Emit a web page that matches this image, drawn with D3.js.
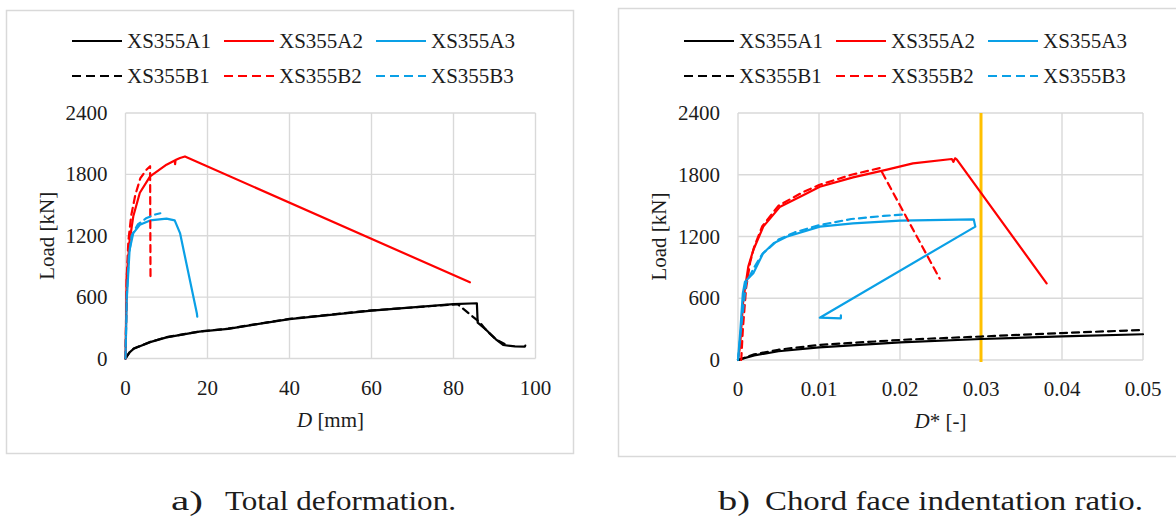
<!doctype html>
<html>
<head>
<meta charset="utf-8">
<title>Load - deformation</title>
<script src="https://cdn.jsdelivr.net/npm/d3@7"></script>
<style>
	body { margin:0; background:#fff; }
	svg text { font-family:'Liberation Serif','Times New Roman',serif; fill:#1c1c1c; }
	.grid line { stroke:#d9d9d9; stroke-width:1.4; }
	.frame { fill:none; stroke:#d9d9d9; stroke-width:1.5; }
	.curve { fill:none; stroke-width:2.2; stroke-linejoin:round; stroke-linecap:round; }
</style>
</head>
<body>
<script>

	// series names + styles
	var names = ["XS355A1","XS355A2","XS355A3","XS355B1","XS355B2","XS355B3"];
	var colors = ["#000000","#ff0000","#0aa0e6","#000000","#ff0000","#0aa0e6"];
	var dashed = [false,false,false,true,true,true];

	var loadTicks = [0,600,1200,1800,2400];

	// panel a) : D [mm] vs Load [kN]
	var dTicks = [0,20,40,60,80,100];
	var dA1 = [[0,0],[1,60],[2,95],[3.5,120],[6,160],[10,207],[18,262],[25,290],[40,385],[60,468],[80,531],[85.7,540],[85.9,350],[88,279],[90.5,181],[92.1,132],[95,118],[97.4,116],[97.5,126]];
	var dA2 = [[0,0],[0.3,800],[1,1150],[1.9,1390],[3.5,1620],[6,1780],[10,1895],[12,1935],[12.1,1900],[12.2,1940],[13.3,1960],[14.5,1975],[84,745]];
	var dA3 = [[0,0],[0.3,573],[1,1063],[1.9,1226],[3.5,1307],[6,1350],[10,1368],[12,1350],[13.3,1226],[17.4,443],[17.5,410]];
	var dB1 = [[0,0],[1,62],[2,97],[3.5,122],[6,162],[10,209],[18,264],[25,292],[40,388],[60,470],[81,531],[86.5,350],[88,276],[90.5,182],[92.5,140]];
	var dB2 = [[0,0],[0.3,800],[0.7,1150],[1.4,1400],[2.4,1600],[3.6,1760],[5,1840],[6,1880],[6.1,785]];
	var dB3 = [[0,0],[0.3,600],[0.8,1000],[1.5,1200],[3,1310],[5,1370],[7,1405],[8.5,1420]];

	// panel b) : D* [-] vs Load [kN]
	var rTicks = [0,0.01,0.02,0.03,0.04,0.05];
	var rLimit = 0.03;
	var rA1 = [[0,0],[0.002,45],[0.005,85],[0.01,122],[0.02,172],[0.03,204],[0.04,230],[0.05,250]];
	var rA2 = [[0,0],[0.00025,130],[0.00065,583],[0.00127,907],[0.00189,1069],[0.00312,1296],[0.0052,1490],[0.0081,1604],[0.0101,1684],[0.0142,1775],[0.0184,1850],[0.0216,1911],[0.0264,1953],[0.0266,1925],[0.0268,1960],[0.027,1950],[0.0381,745]];
	var rA3 = [[0,0],[0.0003,300],[0.0006,650],[0.00086,761],[0.00128,794],[0.00189,842],[0.0031,1037],[0.0044,1134],[0.006,1198],[0.0101,1296],[0.0142,1328],[0.02,1355],[0.0291,1367],[0.0293,1296],[0.0101,411],[0.0127,405],[0.0127,435]];
	var rB1 = [[0,0],[0.002,55],[0.005,100],[0.01,146],[0.02,195],[0.03,228],[0.04,262],[0.05,292]];
	var rB2 = [[0.0004,0],[0.0006,300],[0.001,700],[0.0015,950],[0.002,1100],[0.003,1300],[0.005,1500],[0.008,1630],[0.01,1700],[0.014,1800],[0.0175,1865],[0.0249,790]];
	var rB3 = [[0,0],[0.0005,400],[0.001,750],[0.002,900],[0.003,1030],[0.005,1170],[0.007,1240],[0.01,1310],[0.014,1370],[0.018,1400],[0.0208,1415]];

	var svg = d3.select("body").append("svg")
		.attr("width",1176)
		.attr("height",527);

	function drawPanel(p) {
		var g = svg.append("g");

		g.append("rect").attr("class","frame")
			.attr("x",p.frame[0]).attr("y",p.frame[1])
			.attr("width",p.frame[2]).attr("height",p.frame[3]);

		var x = d3.scaleLinear().domain([0,p.xTicks[p.xTicks.length-1]]).range([p.left,p.right]);
		var y = d3.scaleLinear().domain([0,2400]).range([p.bottom,p.top]);

		// grid
		var grid = g.append("g").attr("class","grid");
		grid.selectAll("vl").data(p.xTicks).enter().append("line")
			.attr("x1",function(d){return x(d);}).attr("x2",function(d){return x(d);})
			.attr("y1",p.top).attr("y2",p.bottom);
		grid.selectAll("hl").data(loadTicks).enter().append("line")
			.attr("x1",p.left).attr("x2",p.right)
			.attr("y1",function(d){return y(d);}).attr("y2",function(d){return y(d);});

		// tick labels
		g.selectAll("xt").data(p.xTicks).enter().append("text")
			.attr("x",function(d){return x(d);})
			.attr("y",p.bottom+29)
			.attr("text-anchor","middle")
			.attr("dominant-baseline","central")
			.style("font-size","21px")
			.text(function(d){return d;});
		g.selectAll("yt").data(loadTicks).enter().append("text")
			.attr("x",p.left-18)
			.attr("y",function(d){return y(d);})
			.attr("text-anchor","end")
			.attr("dominant-baseline","central")
			.style("font-size","21px")
			.text(function(d){return d;});

		// axis titles
		g.append("text")
			.attr("transform","translate("+(p.left-79)+","+((p.top+p.bottom)/2)+") rotate(-90)")
			.attr("text-anchor","middle")
			.attr("dominant-baseline","central")
			.style("font-size","21px")
			.text("Load [kN]");
		var xt = g.append("text")
			.attr("x",(p.left+p.right)/2)
			.attr("y",p.bottom+61)
			.attr("text-anchor","middle")
			.attr("dominant-baseline","central")
			.style("font-size","21px");
		xt.append("tspan").style("font-style","italic").text("D");
		xt.append("tspan").text(p.xUnit);

		// limit line
		if (p.limit != null) {
			g.append("line")
				.attr("x1",x(p.limit)).attr("x2",x(p.limit))
				.attr("y1",p.top).attr("y2",p.bottom+2)
				.attr("stroke","#ffc000").attr("stroke-width",3);
		}

		// curves
		var line = d3.line().x(function(d){return x(d[0]);}).y(function(d){return y(d[1]);});
		g.selectAll("curve").data(p.series).enter().append("path")
			.attr("class","curve")
			.attr("d",line)
			.attr("stroke",function(d,i){return colors[i];})
			.attr("stroke-dasharray",function(d,i){return dashed[i] ? "7,5" : null;});

		// legend
		var leg = g.selectAll("leg").data(names).enter().append("g")
			.attr("transform",function(d,i){return "translate("+(p.legendX+(i%3)*152)+","+(i<3 ? 41 : 76)+")";});
		leg.append("line")
			.attr("x1",0).attr("x2",50).attr("y1",0).attr("y2",0)
			.attr("stroke",function(d,i){return colors[i];})
			.attr("stroke-width",2.2)
			.attr("stroke-dasharray",function(d,i){return dashed[i] ? "9,5" : null;});
		leg.append("text")
			.attr("x",55).attr("y",0)
			.attr("dominant-baseline","central")
			.style("font-size","21px")
			.text(function(d){return d;});

		// caption
		svg.append("text")
			.attr("x",p.capX).attr("y",510)
			.style("font-size","27px")
			.attr("textLength",p.labW).attr("lengthAdjust","spacingAndGlyphs")
			.text(p.capLabel);
		svg.append("text")
			.attr("x",p.capX2).attr("y",510)
			.style("font-size","27px")
			.attr("textLength",p.capW).attr("lengthAdjust","spacingAndGlyphs")
			.text(p.caption);
	}

	drawPanel({
		frame:[6.5,10.5,567,443], left:125.5, right:535.5, top:113, bottom:358.5,
		xTicks:dTicks, xUnit:" [mm]", limit:null,
		series:[dA1,dA2,dA3,dB1,dB2,dB3], legendX:72,
		capX:171, capX2:225, labW:32, capW:231, capLabel:"a)", caption:"Total deformation."
	});

	drawPanel({
		frame:[618.5,8.5,600,448], left:738, right:1143, top:113, bottom:360,
		xTicks:rTicks, xUnit:"* [-]", limit:rLimit,
		series:[rA1,rA2,rA3,rB1,rB2,rB3], legendX:684,
		capX:718, capX2:765, labW:32, capW:378, capLabel:"b)", caption:"Chord face indentation ratio."
	});

</script>
</body>
</html>
